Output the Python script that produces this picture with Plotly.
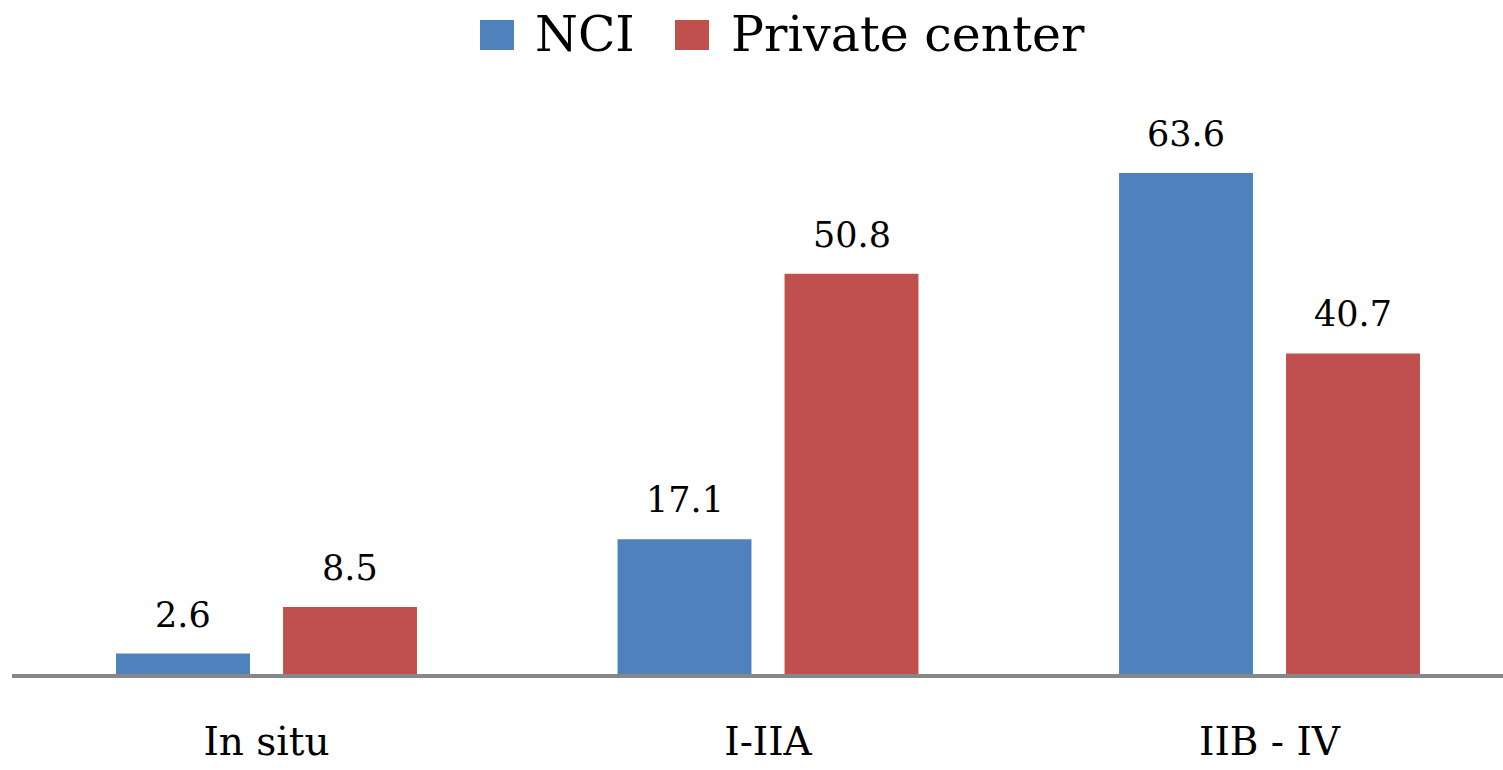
import plotly.graph_objects as go

# Stage groups and percentages per centre
stages = ["In situ", "I-IIA", "IIB - IV"]
nci_values = [2.6, 17.1, 63.6]
private_values = [8.5, 50.8, 40.7]
series_names = ["NCI", "Private center"]
series_colors = ["#4F81BD", "#C0504D"]

W, H = 1503, 770
M_L, M_R, M_T, M_B = 12, 0, 45, 96
BARGAP = 0.334
BARGROUPGAP = 0.198
SERIF = "DejaVu Serif"

fig = go.Figure()
for name, vals, col in zip(series_names, [nci_values, private_values], series_colors):
    fig.add_trace(go.Bar(
        x=stages, y=vals, name=name, marker_color=col,
        marker_line_width=0, showlegend=False,
    ))

# Value labels above each bar (category index +/- half a group slot)
slot = (1 - BARGAP) / 2
annotations = []
for k, vals in enumerate([nci_values, private_values]):
    off = (k - 0.5) * slot
    for i, v in enumerate(vals):
        annotations.append(dict(
            x=i + off, y=v, xref="x", yref="y", text=f"{v}",
            showarrow=False, yanchor="bottom", yshift=17,
            font=dict(family=SERIF, size=35, color="#000000"),
        ))

# Legend drawn at the top centre
pw = W - M_L - M_R
ph = H - M_T - M_B
def px_x(px):
    return (px - M_L) / pw
def px_y(py):
    return (H - M_B - py) / ph

shapes = []
legend_items = [(480, 514, 533), (675, 709, 729)]
for (x0, x1, tx), name, col in zip(legend_items, series_names, series_colors):
    shapes.append(dict(
        type="rect", xref="paper", yref="paper",
        x0=px_x(x0), x1=px_x(x1), y0=px_y(50), y1=px_y(20),
        fillcolor=col, line=dict(width=0),
    ))
    annotations.append(dict(
        x=px_x(tx), y=px_y(35), xref="paper", yref="paper", text=name,
        showarrow=False, xanchor="left", yanchor="middle",
        font=dict(family=SERIF, size=49, color="#000000"),
    ))

fig.update_layout(
    width=W, height=H,
    margin=dict(l=M_L, r=M_R, t=M_T, b=M_B),
    paper_bgcolor="white", plot_bgcolor="white",
    font=dict(family=SERIF),
    barmode="group", bargap=BARGAP, bargroupgap=BARGROUPGAP,
    annotations=annotations, shapes=shapes,
    xaxis=dict(
        range=[-0.5075, 2.4656], showline=True, linecolor="#878787", linewidth=4,
        ticks="", showgrid=False, zeroline=False, automargin=False,
        tickfont=dict(family=SERIF, size=39, color="#000000"),
        ticklabelstandoff=30,
    ),
    yaxis=dict(
        range=[0, 79.85], showline=False, showgrid=False, zeroline=False,
        showticklabels=False, ticks="", automargin=False,
    ),
)

fig.write_html("out.html")
